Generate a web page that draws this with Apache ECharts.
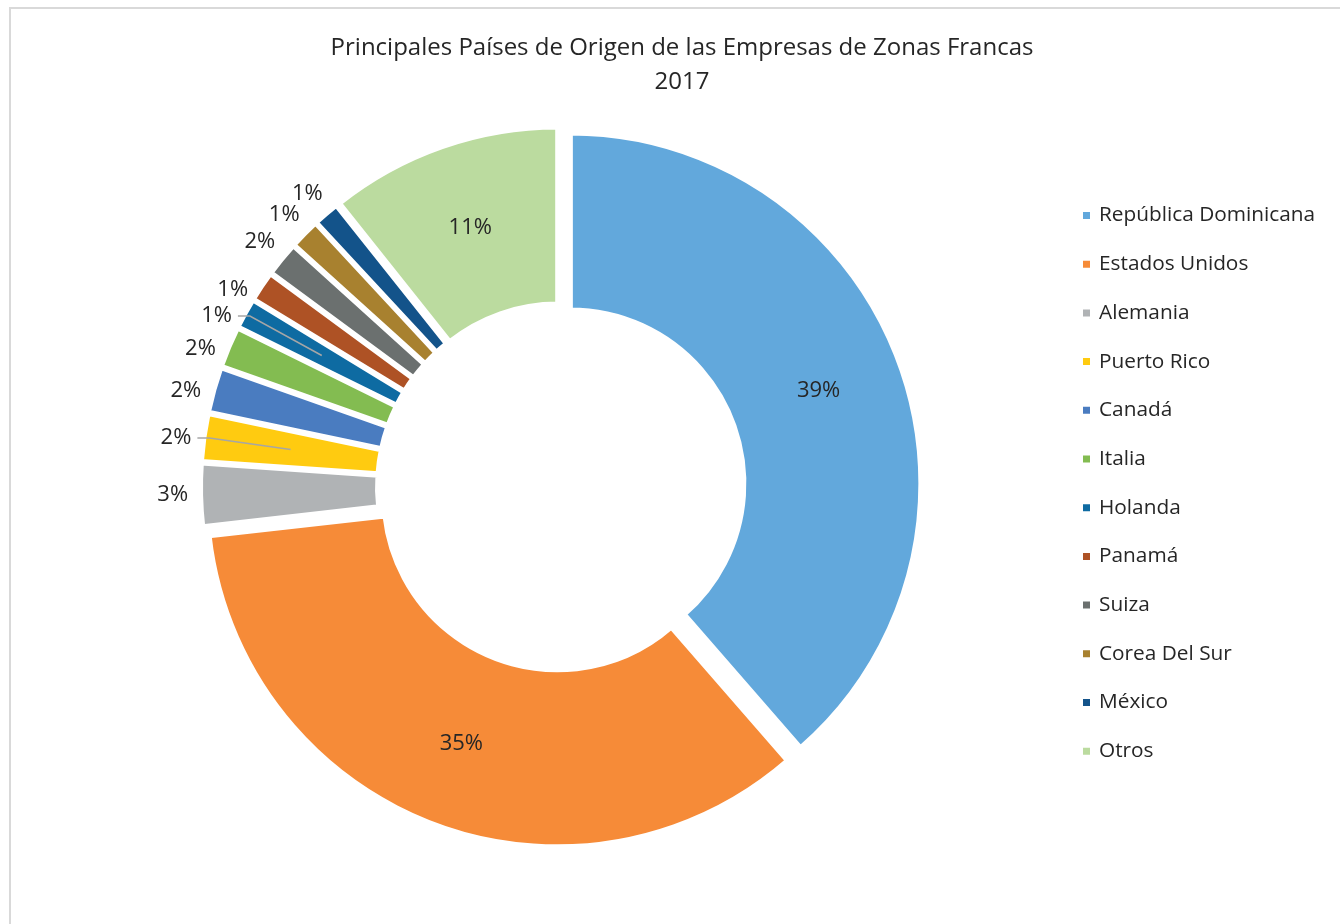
<!DOCTYPE html>
<html>
<head>
<meta charset="utf-8">
<script src="https://cdn.jsdelivr.net/npm/echarts@6/dist/echarts.min.js"></script>
<style>
  html, body { margin: 0; padding: 0; background: #fff; }
  #chart { width: 1340px; height: 924px; }
</style>
</head>
<body>
<div id="chart"></div>
<script>
// ---- data ----
const titleLines = ['Principales Países de Origen de las Empresas de Zonas Francas', '2017'];
const categories = ['República Dominicana', 'Estados Unidos', 'Alemania', 'Puerto Rico', 'Canadá', 'Italia', 'Holanda', 'Panamá', 'Suiza', 'Corea Del Sur', 'México', 'Otros'];
const shares = [38.6, 34.6, 2.9, 2.2, 2.1, 1.9, 1.4, 1.4, 1.6, 1.4, 1.2, 10.7];

// ---- styling ----
const sliceColors = ['#62A8DC', '#F68B38', '#B0B3B5', '#FFCB10', '#4A7CC0', '#83BC51', '#0E6BA2', '#AE5225', '#6B706F', '#A8812F', '#13538A', '#BBDB9F'];
// label placement per slice: 'in' = inside ring, 'side' = outside to the left, 'ring' = centred on an outer ring
const labelMode = ['in', 'in', 'side', 'side', 'side', 'side', 'side', 'side', 'ring', 'ring', 'ring', 'in'];
const withLeader = [false, false, false, true, false, false, true, false, false, false, false, false];

const FONT = '"Open Sans", Lato, sans-serif';
const TXT = '#262626';
const CX = 561, CY = 487;
const LABEL_SIZE = 22;
const fmt = p => Math.round(p.percent) + '%';

const chart = echarts.init(document.getElementById('chart'), null, { renderer: 'canvas' });

const mainData = categories.map((name, i) => ({
  name, value: shares[i], selected: true,
  itemStyle: { color: sliceColors[i] },
  label: { show: labelMode[i] === 'in' }
}));
const sideData = categories.map((name, i) => {
  const m = labelMode[i];
  const d = { name, value: shares[i], label: { show: m === 'side' || m === 'ring' }, labelLine: { show: withLeader[i] } };
  if (m === 'ring') {
    d.labelLine.length = 114;
    d.labelLine.length2 = 0;
    d.label.distanceToLabelLine = -14;
  }
  return d;
});

const option = {
  animation: false,
  backgroundColor: '#fff',
  graphic: [{
    type: 'rect', silent: true, z: -10,
    shape: { x: 10, y: 8, width: 1400, height: 1000 },
    style: { fill: 'none', stroke: '#D9D9D9', lineWidth: 2 }
  }],
  title: {
    text: titleLines.join('\n'),
    left: 677, top: 26, textAlign: 'center',
    textStyle: { fontFamily: FONT, fontSize: 24, fontWeight: 'normal', color: TXT, lineHeight: 34, align: 'center' }
  },
  legend: {
    orient: 'vertical', left: 1076, top: 200,
    icon: 'rect', itemWidth: 9, itemHeight: 9, itemGap: 27.7,
    data: categories,
    textStyle: { fontFamily: FONT, fontSize: 20.8, color: TXT, lineHeight: 20, padding: [0, 0, 0, 3] }
  },
  series: [
    {
      type: 'pie', name: 'main',
      center: [CX, CY], radius: [173.5, 350.5],
      startAngle: 90, clockwise: true,
      selectedMode: 'multiple', selectedOffset: 10,
      avoidLabelOverlap: false,
      labelLayout: { hideOverlap: false },
      itemStyle: { borderColor: '#fff', borderWidth: 5 },
      select: { itemStyle: { borderColor: '#fff', borderWidth: 5 }, label: { color: TXT } },
      emphasis: { scale: false, disabled: true },
      label: { position: 'inside', formatter: fmt, fontFamily: FONT, fontSize: LABEL_SIZE, color: TXT, rotate: 0 },
      labelLine: { show: false },
      data: mainData
    },
    {
      type: 'pie', name: 'outerLabels', silent: true, z: 5,
      center: [CX, CY], radius: [0, 273],
      startAngle: 90, clockwise: true,
      avoidLabelOverlap: false,
      labelLayout: { hideOverlap: false },
      itemStyle: { color: 'rgba(0,0,0,0)', borderWidth: 0 },
      emphasis: { disabled: true },
      label: { position: 'outside', formatter: fmt, fontFamily: FONT, fontSize: LABEL_SIZE, color: TXT, distanceToLabelLine: 6 },
      labelLine: { length: 82, length2: 12, smooth: false, minTurnAngle: 0, maxSurfaceAngle: 180, lineStyle: { color: '#A6A6A6', width: 1.5 } },
      data: sideData
    }
  ]
};
chart.setOption(option);
</script>
</body>
</html>
